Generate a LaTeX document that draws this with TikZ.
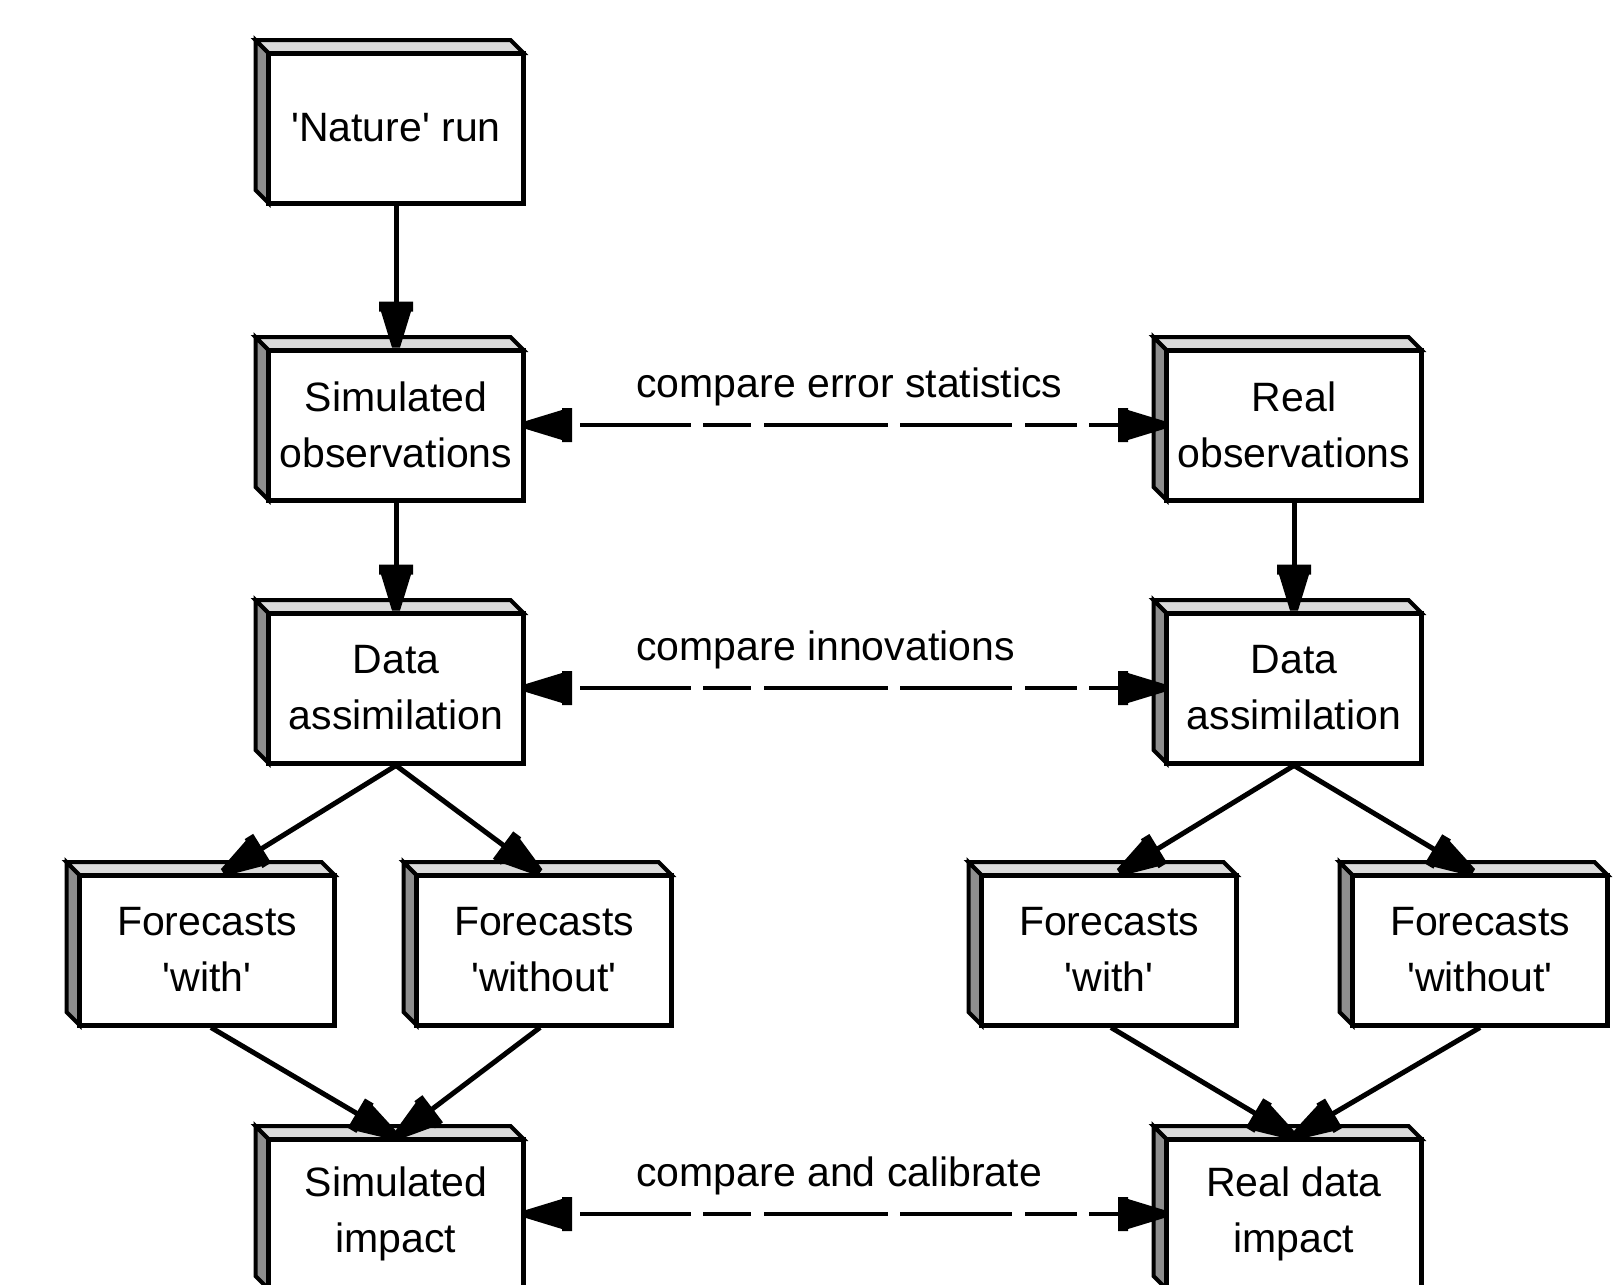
\documentclass[tikz,border=0pt]{standalone}
\usepackage{fontspec}
\setmainfont{Liberation Sans}
\usetikzlibrary{arrows.meta}
\definecolor{topgray}{HTML}{DADADA}
\definecolor{sidegray}{HTML}{8E8E8E}
\pgfdeclarearrow{
  name = MacTip,
  setup code = {
    \pgfarrowssettipend{0pt}
    \pgfarrowssetbackend{-23pt}
    \pgfarrowssetlineend{-17pt}
    \pgfarrowssetvisualbackend{-23pt}
    \pgfarrowshullpoint{0pt}{0pt}
    \pgfarrowshullpoint{-23pt}{8.5pt}
    \pgfarrowshullpoint{-23pt}{-8.5pt}
  },
  drawing code = {
    \pgfpathmoveto{\pgfqpoint{0pt}{2pt}}
    \pgfpathlineto{\pgfqpoint{-18pt}{7.5pt}}
    \pgfpathlineto{\pgfqpoint{-18pt}{8.5pt}}
    \pgfpathlineto{\pgfqpoint{-23pt}{8.5pt}}
    \pgfpathlineto{\pgfqpoint{-23pt}{-8.5pt}}
    \pgfpathlineto{\pgfqpoint{-18pt}{-8.5pt}}
    \pgfpathlineto{\pgfqpoint{-18pt}{-7.5pt}}
    \pgfpathlineto{\pgfqpoint{0pt}{-2pt}}
    \pgfpathclose
    \pgfusepathqfill
  }
}
\tikzset{
  txt/.style={font=\fontsize{20.5}{28}\selectfont},
  boxface/.style={txt, draw=black, line width=2.5pt, fill=white,
    minimum width=127.5pt, minimum height=75pt, inner sep=0pt, align=center},
  topface/.style={fill=topgray, draw=black, line width=2pt},
  sideface/.style={fill=sidegray, draw=black, line width=2pt},
  flow/.style={line width=2.5pt, -{MacTip}},
  cmp/.style={line width=2pt,
    dash pattern=on 55.5pt off 6pt on 24pt off 6.5pt on 62pt off 6pt on 56pt off 6.5pt on 26pt off 6pt on 60pt off 10pt,
    dash phase=314.5pt, {MacTip}-{MacTip}},
  cmplabel/.style={txt, anchor=base west, inner sep=0pt}
}
\newcommand\tdbox[4]{%
  \draw[sideface] ({#2-127.5},{#3-75}) -- ({#2-140.5},{#3-88}) -- ({#2-140.5},{#3+62}) -- ({#2-127.5},{#3+75}) -- cycle;
  \draw[topface] ({#2-127.5},{#3-75}) -- ({#2-140.5},{#3-88}) -- ({#2+114.5},{#3-88}) -- ({#2+127.5},{#3-75}) -- cycle;
  \node[boxface] (#1) at (#2,#3) {#4};
}
\newcommand\q{\textquotesingle}
\begin{document}
\begin{tikzpicture}[x=0.5pt, y=-0.5pt]
\useasboundingbox (0,0) rectangle (1613,1285);
\clip (0,0) rectangle (1613,1285);
\fill[white] (0,0) rectangle (1613,1285);

\tdbox{nat}{396}{128}{\q Nature\q{} run}
\tdbox{so}{396}{425}{Simulated\\observations}
\tdbox{ro}{1294}{425}{Real\\observations}
\tdbox{dal}{396}{688}{Data\\assimilation}
\tdbox{dar}{1294}{688}{Data\\assimilation}
\tdbox{fwl}{207}{950}{Forecasts\\\q with\q}
\tdbox{fol}{544}{950}{Forecasts\\\q without\q}
\tdbox{fwr}{1109}{950}{Forecasts\\\q with\q}
\tdbox{for}{1480}{950}{Forecasts\\\q without\q}
\tdbox{sil}{396}{1214}{Simulated\\impact}
\tdbox{rdi}{1294}{1214}{Real data\\impact}

\draw[flow] (nat.south) -- (so.north);
\draw[flow] (so.south) -- (dal.north);
\draw[flow] (ro.south) -- (dar.north);
\draw[flow] (dal.south) -- ([xshift=8pt]fwl.north);
\draw[flow] (dal.south) -- ([xshift=-2pt]fol.north);
\draw[flow] (dar.south) -- ([xshift=5pt]fwr.north);
\draw[flow] (dar.south) -- ([xshift=-3.5pt]for.north);
\draw[flow] ([xshift=2pt]fwl.south) -- (sil.north);
\draw[flow] ([xshift=-2pt]fol.south) -- (sil.north);
\draw[flow] ([xshift=1pt]fwr.south) -- (rdi.north);
\draw[flow] (for.south) -- (rdi.north);

\draw[cmp] (so.east) -- (ro.west);
\draw[cmp] (dal.east) -- (dar.west);
\draw[cmp] (sil.east) -- (rdi.west);

\node[cmplabel] (l1) at (636,397) {compare error statistics};
\node[cmplabel] (l2) at (636,660) {compare innovations};
\node[cmplabel] (l3) at (636,1186) {compare and calibrate};
\end{tikzpicture}
\end{document}
